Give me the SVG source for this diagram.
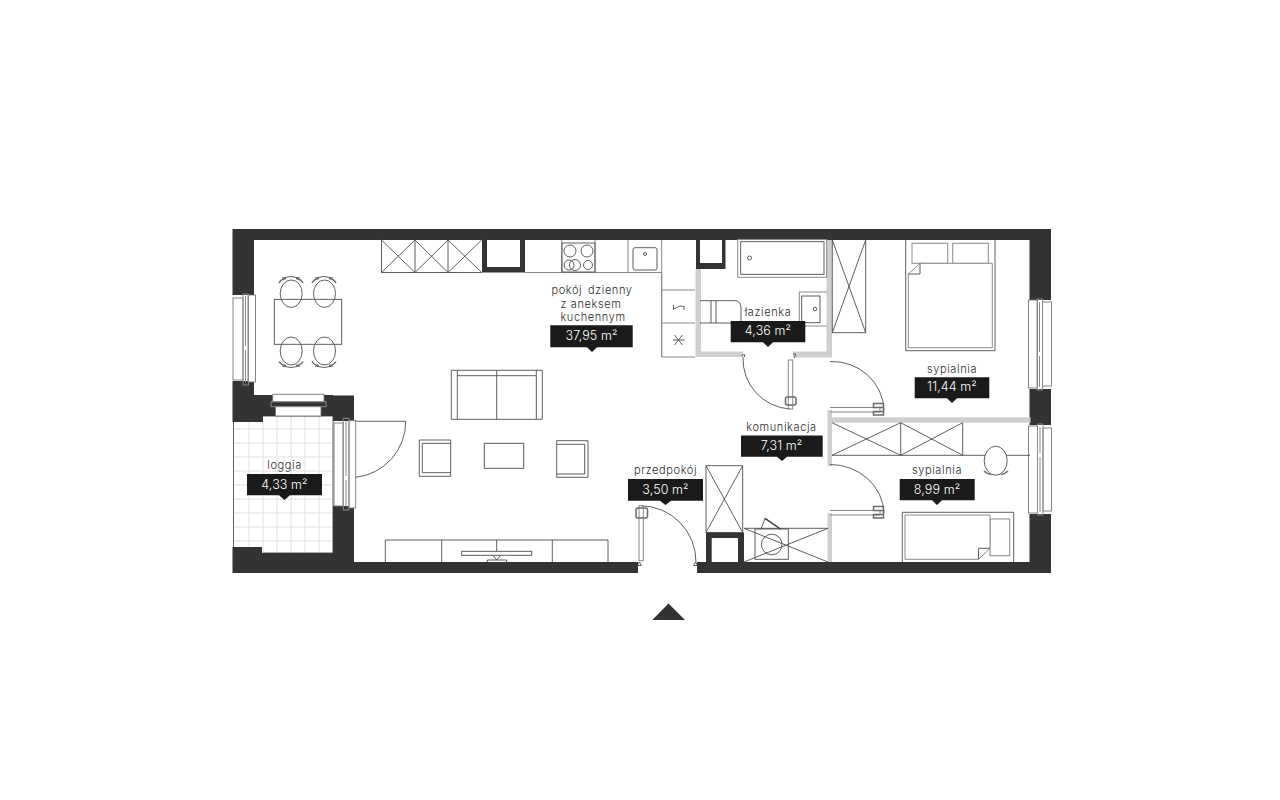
<svg xmlns="http://www.w3.org/2000/svg" width="1280" height="800" viewBox="0 0 1280 800">
<style>
.w{fill:#333;stroke:none}
.g{fill:#cfcfcf;stroke:none}
.l{fill:none;stroke:#4d4d4d;stroke-width:.9}
.m{fill:none;stroke:#8a8a8a;stroke-width:1}
.a{fill:none;stroke:#6a6a6a;stroke-width:1.500}
.wf{fill:#fff;stroke:#777;stroke-width:.9}
.t{fill:none;stroke:#e0e0e0;stroke-width:1}
.b{fill:#1a1a1a}
text{font-family:"Inter","Liberation Sans",sans-serif;text-anchor:middle}
.n{font-size:11px;fill:#2b2b2b;letter-spacing:.6px;font-weight:300}
.v{font-size:12.5px;fill:#fff;font-weight:300;letter-spacing:.1px}
</style>
<rect width="1280" height="800" fill="#fff"/>
<g id="loggia-tiles">
<path class="t" d="M249 422V547M263 422V553M277 416V553M291 416V553M305 416V553M319 416V553M234 429H333M234 443H333M234 457H333M234 471H333M234 485H333M234 499H333M234 513H333M234 527H333M234 541H333"/>
<path class="l" d="M233.500 422V547M263 553H333V416H263"/>
</g>
<g id="walls">
<path class="w" d="M232.500 229H1051V300H1029.500V240H254V295H232.500ZM232.500 381H254V395H333V395.500H354V421H333V416H263V422H232.500ZM333 506H354V562H638V573H232.500V547H262V553H333ZM697 562H1029.500V514H1051V573H697ZM1029.500 389H1051V425H1029.500Z"/>
<path class="w" fill-rule="evenodd" d="M482 240H525V272.500H482ZM487 240V267H520V240Z"/>
<path class="w" fill-rule="evenodd" d="M696 240H725.500V269H696ZM700 240V263H722V240Z"/>
<path class="w" fill-rule="evenodd" d="M706 532.500H744V562H706ZM711.700 538V562H738V538Z"/>
<path class="g" d="M695.500 269H701V351.500H743V357H695.500ZM793 351.500H826.500V240H832V357.500H793ZM827.500 410H832V417.300H1030.500V422.700H832V466H827.500ZM827.500 513H832V562H827.500Z"/>
</g>
<g id="windows">
<rect class="wf" x="233" y="298" width="10" height="82"/>
<rect class="wf" x="248" y="295" width="7.500" height="87"/>
<path class="m" d="M243 294V385H248.500V294ZM245.500 296V346M245.500 350V383"/>
<rect class="wf" x="272.700" y="394.300" width="51.300" height="7.500"/>
<rect class="wf" x="275.500" y="406.500" width="45.500" height="9.500"/>
<path class="m" d="M271 401.700H326V406.700H271Z"/>
<rect class="wf" x="334" y="423" width="9" height="83"/>
<rect class="wf" x="349" y="420.500" width="6.700" height="87.500"/>
<path class="m" d="M343.300 418.300H349V510H343.300ZM346 421V476M346 480V507"/>
<rect class="wf" x="1028.500" y="300" width="9" height="88"/>
<rect class="wf" x="1042.500" y="302" width="9" height="84"/>
<path class="m" d="M1037 299H1042.500V390H1037ZM1039.500 302V352M1039.500 356V387"/>
<rect class="wf" x="1028.500" y="426" width="9" height="87"/>
<rect class="wf" x="1043" y="428" width="8.500" height="83"/>
<path class="m" d="M1037.500 424H1043V515H1037.500ZM1040 427V453M1040 457V512"/>
</g>
<g id="kitchen">
<path class="l" d="M381.500 240V272.500H481.700M415 240V272.500M448 240V272.500M381.500 240L415 272.500M415 240L381.500 272.500M415 240L448 272.500M448 240L415 272.500M448 240L481.700 272.500M481.700 240L448 272.500"/>
<path class="m" d="M525 272.500H661.700V357H695M661.700 240V357M561.700 240V272.500M595 240V272.500M628 240V272.500M661.700 290H695M661.700 323H695"/>
<rect class="l" x="562" y="243" width="33" height="29"/>
<circle class="l" cx="570" cy="251" r="6"/><circle class="l" cx="587" cy="251" r="6"/>
<circle class="l" cx="569" cy="265" r="5"/><circle class="l" cx="575" cy="265" r="5.500"/><circle class="l" cx="588" cy="265" r="4.500"/>
<rect class="l" x="633" y="247.700" width="24" height="22.300" rx="2"/>
<circle class="l" cx="645" cy="254" r="1.500"/>
<path class="l" d="M673.500 305V310M673.500 309L680 306L684 306.500V310M673 340H684.500M674.500 335L682.500 345M682.500 335L674.500 345"/>
</g>
<g id="dining">
<rect class="l" x="274.300" y="299.300" width="67.400" height="45"/>
<ellipse class="l" cx="291.200" cy="293.700" rx="11" ry="13.700"/><ellipse class="l" cx="324.500" cy="293.700" rx="11" ry="13.700"/>
<ellipse class="l" cx="291.200" cy="351" rx="11" ry="14"/><ellipse class="l" cx="324.500" cy="351" rx="11" ry="14"/>
<path class="a" d="M279 283Q281 279 286 278.500M303 283Q301 279 296 278.500M312 283Q314 279 319 278.500M336 283Q334 279 329 278.500M279 361.500Q281 365 286 365.500M303 361.500Q301 365 296 365.500M312 361.500Q314 365 319 365.500M336 361.500Q334 365 329 365.500"/>
<path class="l" d="M282 278Q291 275 300 278M315 278Q324 275 333 278M282 366Q291 369 300 366M315 366Q324 369 333 366"/>
</g>
<g id="living">
<path class="l" d="M451.300 370.300H542.300V419.300H451.300ZM457.300 370.300V419.300M536.300 370.300V419.300M457.300 375.700H536.300M496.700 370.300V419.300"/>
<path class="l" d="M419.300 440H450.700V476.300H419.300ZM422.300 443.300H450.700M422.300 443.300V472.700H450.700"/>
<path class="l" d="M556.700 440.700H588V477.300H556.700ZM556.700 444.300H584.700V474H556.700"/>
<rect class="l" x="484.300" y="443.300" width="39.400" height="25"/>
<path class="l" d="M385.300 562V540H608V562M441.700 540V562M496.700 540V551M552.300 540V562"/>
<rect class="l" x="461.700" y="551.300" width="70" height="4"/>
<path class="l" d="M493 555.300L496.700 560L500.500 555.300M487.300 562V560H506.700V562"/>
</g>
<g id="bathroom">
<rect class="m" x="737.700" y="239.500" width="89" height="37.800"/>
<rect class="l" x="740.700" y="241.700" width="83.300" height="32.600"/>
<circle class="l" cx="749.500" cy="258" r="2"/>
<path class="m" d="M827 292H799.300V326H827"/>
<rect class="l" x="801.700" y="296" width="18.300" height="26.700"/>
<circle class="l" cx="815" cy="309" r="1.800"/>
<path class="l" d="M700 300.700H735Q741 301 741 308V321M700 323H731M711 300.700V323M716 300.700V323"/>
<path class="l" d="M832.300 240V332.700H865.700V240M832.300 240L865.700 332.700M865.700 240L832.300 332.700"/>
</g>
<g id="doors">
<path class="l" d="M743 357A50 50 0 0 0 790 409"/>
<rect class="m" x="788.300" y="360" width="4.400" height="49"/>
<rect class="a" x="785.500" y="397" width="10.500" height="8" rx="2"/>
<path class="l" d="M741.500 355.500L744.500 354.500V357M793 354H795.500L794.500 358"/>
<path class="l" d="M830 361.500A52 50 0 0 1 884 410"/>
<path class="m" d="M830 407.500H880V412H830"/>
<path class="a" d="M883.500 403.500H873.500V407.500H883.500M883.500 411.500H873.500V415H883.500V403.500"/>
<path class="l" d="M830 464.500A54 50 0 0 1 884 513"/>
<path class="m" d="M830 510.500H880V515H830"/>
<path class="a" d="M883.500 506.500H873.500V510.500H883.500M883.500 514.500H873.500V518H883.500V506.500"/>
<path class="l" d="M641 505.700A56 56 0 0 1 696 562"/>
<rect class="m" x="639" y="505.700" width="4.300" height="55"/>
<rect class="a" x="636" y="508" width="11.500" height="10" rx="2"/>
<path class="l" d="M637.500 565.500H641.500L639.500 562ZM693.500 565.500H697.500L695.500 562Z"/>
<path class="l" d="M355.700 421.300H405.700A56 56 0 0 1 355.700 477.300"/>
</g>
<g id="storage">
<path class="l" d="M706 465.700H742.700V532.500H706ZM706 465.700L742.700 532.500M742.700 465.700L706 532.500"/>
<path class="l" d="M744 528.300H828M744 562L828 528.300M744 528.300L828 562"/>
<rect class="l" x="755" y="529" width="33.300" height="30.300"/>
<circle class="l" cx="771.700" cy="544.500" r="10.300"/>
<path class="l" d="M761 529L765 518.300"/>
<path fill="none" stroke="#333" stroke-width="1.400" d="M765 518.300L780.500 529"/>
</g>
<g id="bedroom-1">
<path class="l" d="M905.700 240V350.700H995V240"/>
<rect class="m" x="912" y="243.300" width="35.700" height="20"/>
<rect class="m" x="952.700" y="243.300" width="35.600" height="20"/>
<path fill="#fff" stroke="#8a8a8a" d="M920 263.300H992.300V347.700H908.300V274Z"/>
<path class="l" d="M920 263.300V274H908.300"/>
</g>
<g id="bedroom-2">
<path class="l" d="M832 455.300H1030M900.700 422.700V455.300M962.700 422.700V455.300M832 422.700L900.700 455.300M900.700 422.700L832 455.300M900.700 422.700L962.700 455.300M962.700 422.700L900.700 455.300"/>
<ellipse fill="#fff" stroke="#4d4d4d" stroke-width=".9" cx="995.700" cy="460.700" rx="11.500" ry="14.500"/>
<path class="a" d="M984 471Q987 474 991 474.500M1008 471Q1005 474 1001 474.500"/>
<path class="l" d="M902.300 562V512.300H1013.700V562"/>
<rect class="m" x="990" y="519" width="19.700" height="36.700"/>
<path fill="#fff" stroke="#8a8a8a" d="M905 515H990V548.300L978.500 559.300H905Z"/>
<path class="l" d="M990 548.300H978.500V559.300"/>
</g>
<g id="label-salon">
<text class="n" x="592" y="294" word-spacing="2">pokój dzienny</text>
<text class="n" x="591" y="308">z aneksem</text>
<text class="n" x="593" y="321">kuchennym</text>
<path class="b" d="M550.300 325.300H632.700V347.300H597L592 352L587 347.300H550.300Z"/>
<text class="v" x="591.500" y="340">37,95 m²</text>
</g>
<g id="label-lazienka">
<text class="n" x="768" y="316">łazienka</text>
<path class="b" d="M730.700 321H805.300V342.300H773L768 347L763 342.300H730.700Z"/>
<text class="v" x="768" y="335">4,36 m²</text>
</g>
<g id="label-sypialnia-1">
<text class="n" x="952" y="372.500">sypialnia</text>
<path class="b" d="M914.700 377.300H989.300V398.300H957L952 403L947 398.300H914.700Z"/>
<text class="v" x="952" y="391">11,44 m²</text>
</g>
<g id="label-komunikacja">
<text class="n" x="781.500" y="431">komunikacja</text>
<path class="b" d="M741 435.500H822.700V456.700H787L782 461L777 456.700H741Z"/>
<text class="v" x="781.500" y="450">7,31 m²</text>
</g>
<g id="label-przedpokoj">
<text class="n" x="665.500" y="474.300">przedpokój</text>
<path class="b" d="M628 479H703V500.700H671L665.500 505L660 500.700H628Z"/>
<text class="v" x="665.500" y="494">3,50 m²</text>
</g>
<g id="label-sypialnia-2">
<text class="n" x="937" y="473.500">sypialnia</text>
<path class="b" d="M899.700 479H974.700V500.300H942L937 505L932 500.300H899.700Z"/>
<text class="v" x="937" y="493.500">8,99 m²</text>
</g>
<g id="label-loggia">
<text class="n" x="284.500" y="469">loggia</text>
<path class="b" d="M247 474H322V495.300H290L284.500 500L279 495.300H247Z"/>
<text class="v" x="284.500" y="488.500">4,33 m²</text>
</g>
<path id="north-arrow" fill="#333" d="M652.300 620L668.500 603.500L685 620Z"/>
</svg>
